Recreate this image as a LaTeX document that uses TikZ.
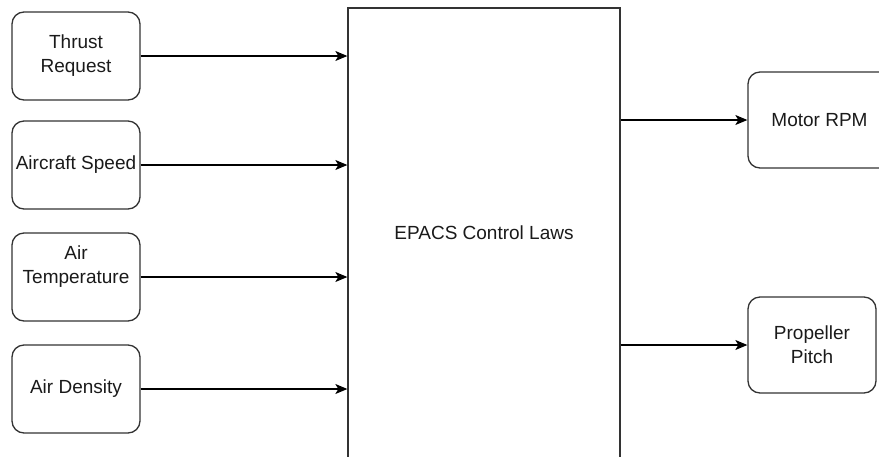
\documentclass[tikz,border=0pt]{standalone}
\usepackage{fontspec}
\setmainfont{Liberation Sans}
\usepackage{tikz}
\usetikzlibrary{arrows.meta,positioning}
\definecolor{ink}{HTML}{1a1a1a}
\definecolor{edge}{HTML}{333333}

\begin{document}
\begin{tikzpicture}[
  x=1pt, y=-1pt,
  inbox/.style={draw=edge, line width=1.3pt, rounded corners=12pt, minimum width=128pt, minimum height=88pt, align=center, text=ink, font=\fontsize{19}{24}\selectfont, inner sep=0pt},
  outbox/.style={inbox, minimum width=128pt, minimum height=96pt},
  lawbox/.style={draw=edge, line width=1.3pt, minimum width=272pt, minimum height=450pt, align=center, text=ink, font=\fontsize{19}{24}\selectfont},
  arr/.style={-{Stealth[length=12pt,width=10pt,inset=3pt]}, line width=1.1pt, color=black}
]
\useasboundingbox (0,0) rectangle (879,456);
\clip (0,0) rectangle (879,456);

% Inputs
\node[inbox] (thrust) at (76,56) {Thrust\\Request};
\node[inbox] (speed) at (76,165) {Aircraft Speed};
\node[inbox] (temp) at (76,277) {\raisebox{6pt}[0pt][0pt]{\begin{tabular}{@{}c@{}}Air\\Temperature\end{tabular}}};
\node[inbox] (density) at (76,389) {Air Density};

% Control block
\node[lawbox] (laws) at (484,233) {EPACS Control Laws};

% Outputs
\node[outbox, minimum width=143pt] (rpm) at (819.5,120) {Motor RPM};
\node[outbox] (pitch) at (812,345) {Propeller\\Pitch};

\draw[arr] (thrust) -- (thrust -| laws.west);
\draw[arr] (speed) -- (speed -| laws.west);
\draw[arr] (temp) -- (temp -| laws.west);
\draw[arr] (density) -- (density -| laws.west);
\draw[arr] (laws.east |- rpm) -- (rpm);
\draw[arr] (laws.east |- pitch) -- (pitch);
\end{tikzpicture}
\end{document}
